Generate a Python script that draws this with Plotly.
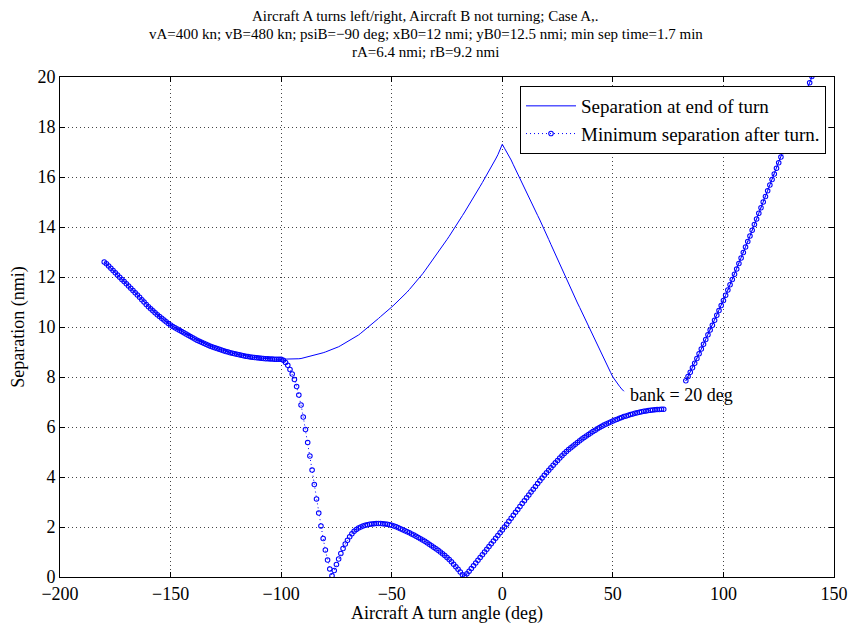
import plotly.graph_objects as go

# ---------------- data ----------------
# turn angle in degrees, 1-degree steps
angle_left = list(range(-180, -99))      # -180 .. -100 (both curves coincide)
angle_mid = list(range(-99, 1))          # -99 .. 0
angle_fall = list(range(1, 56))          # 1 .. 55  (separation at end of turn)
angle_rise = list(range(1, 74))          # 1 .. 73  (minimum separation)
angle_right = list(range(83, 142))       # 83 .. 141 (both curves coincide)

shared_left = [
    12.6, 12.53, 12.44, 12.35, 12.26, 12.17, 12.08, 11.99, 11.9, 11.82,
    11.73, 11.64, 11.55, 11.46, 11.37, 11.28, 11.19, 11.09, 11.0, 10.9,
    10.81, 10.73, 10.65, 10.57, 10.49, 10.42, 10.35, 10.28, 10.21, 10.14,
    10.08, 10.02, 9.97, 9.92, 9.87, 9.82, 9.77, 9.72, 9.67, 9.62,
    9.57, 9.52, 9.47, 9.43, 9.39, 9.35, 9.31, 9.27, 9.23, 9.2,
    9.17, 9.14, 9.11, 9.08, 9.05, 9.02, 9.0, 8.97, 8.95, 8.93,
    8.91, 8.89, 8.87, 8.85, 8.83, 8.82, 8.8, 8.79, 8.78, 8.77,
    8.76, 8.75, 8.74, 8.73, 8.73, 8.72, 8.72, 8.71, 8.71, 8.71,
    8.71,
]

sep_end_mid = [
    8.70, 8.70, 8.70, 8.70, 8.70, 8.71, 8.72, 8.73, 8.74, 8.76,
    8.78, 8.80, 8.82, 8.84, 8.86, 8.88, 8.91, 8.94, 8.97, 9.00,
    9.03, 9.06, 9.09, 9.13, 9.17, 9.21, 9.26, 9.31, 9.36, 9.41,
    9.46, 9.51, 9.56, 9.62, 9.68, 9.75, 9.82, 9.89, 9.96, 10.04,
    10.12, 10.20, 10.27, 10.34, 10.42, 10.49, 10.57, 10.65, 10.72, 10.80,
    10.88, 10.96, 11.04, 11.13, 11.22, 11.31, 11.40, 11.50, 11.60, 11.70,
    11.80, 11.91, 12.02, 12.13, 12.25, 12.37, 12.49, 12.61, 12.73, 12.85,
    12.98, 13.11, 13.24, 13.37, 13.50, 13.63, 13.76, 13.90, 14.04, 14.18,
    14.32, 14.46, 14.60, 14.74, 14.88, 15.03, 15.18, 15.33, 15.48, 15.63,
    15.78, 15.93, 16.08, 16.24, 16.40, 16.56, 16.72, 16.89, 17.10, 17.31,
]

sep_end_fall = [
    17.15, 17.0, 16.86, 16.68, 16.49, 16.3, 16.1, 15.91, 15.73, 15.55,
    15.37, 15.19, 15.0, 14.82, 14.64, 14.46, 14.28, 14.1, 13.9, 13.7,
    13.5, 13.3, 13.1, 12.9, 12.71, 12.52, 12.33, 12.13, 11.93, 11.73,
    11.53, 11.34, 11.15, 10.96, 10.78, 10.59, 10.41, 10.23, 10.05, 9.87,
    9.68, 9.49, 9.3, 9.11, 8.92, 8.73, 8.54, 8.36, 8.18, 8.0,
    7.86, 7.74, 7.63, 7.52, 7.43,
]

min_sep_mid = [
    8.67, 8.58, 8.47, 8.30, 8.12, 7.90, 7.62, 7.28, 6.88, 6.40,
    5.90, 5.38, 4.84, 4.28, 3.70, 3.12, 2.56, 2.04, 1.54, 1.08,
    0.68, 0.32, 0.05, 0.26, 0.50, 0.72, 0.94, 1.14, 1.32, 1.47,
    1.61, 1.73, 1.83, 1.90, 1.96, 2.00, 2.04, 2.07, 2.09, 2.11,
    2.12, 2.13, 2.14, 2.14, 2.14, 2.13, 2.12, 2.11, 2.09, 2.07,
    2.04, 2.01, 1.97, 1.93, 1.89, 1.85, 1.81, 1.77, 1.72, 1.68,
    1.63, 1.58, 1.53, 1.48, 1.43, 1.37, 1.31, 1.25, 1.19, 1.13,
    1.07, 1.00, 0.93, 0.86, 0.78, 0.70, 0.61, 0.51, 0.41, 0.31,
    0.20, 0.09, 0.04, 0.13, 0.23, 0.34, 0.45, 0.56, 0.67, 0.78,
    0.89, 1.00, 1.11, 1.22, 1.33, 1.44, 1.55, 1.66, 1.77, 1.88,
]

min_sep_rise = [
    2.0, 2.11, 2.23, 2.35, 2.47, 2.59, 2.7, 2.82, 2.94, 3.05,
    3.17, 3.28, 3.4, 3.51, 3.62, 3.74, 3.85, 3.96, 4.07, 4.17,
    4.27, 4.37, 4.47, 4.57, 4.66, 4.76, 4.85, 4.94, 5.02, 5.1,
    5.17, 5.24, 5.31, 5.38, 5.45, 5.52, 5.58, 5.64, 5.7, 5.76,
    5.82, 5.87, 5.93, 5.98, 6.03, 6.08, 6.12, 6.16, 6.2, 6.24,
    6.28, 6.31, 6.35, 6.38, 6.42, 6.44, 6.47, 6.5, 6.52, 6.55,
    6.57, 6.59, 6.61, 6.63, 6.64, 6.66, 6.67, 6.68, 6.69, 6.7,
    6.7, 6.71, 6.71,
]

shared_right = [
    7.85, 8.02, 8.19, 8.37, 8.55, 8.74, 8.93, 9.12, 9.31, 9.5,
    9.69, 9.88, 10.07, 10.27, 10.47, 10.66, 10.86, 11.06, 11.27, 11.48,
    11.69, 11.9, 12.11, 12.32, 12.54, 12.76, 12.98, 13.2, 13.42, 13.64,
    13.87, 14.1, 14.32, 14.55, 14.77, 15.0, 15.22, 15.45, 15.68, 15.9,
    16.12, 16.35, 16.57, 16.8, 17.02, 17.25, 17.47, 17.7, 17.93, 18.16,
    18.39, 18.62, 18.85, 19.08, 19.31, 19.54, 19.77, 20.02, 20.23,
]

bank_label = "bank = 20 deg"
bank_label_pos = (57, 7.3)

title_lines = [
    "Aircraft A turns left/right, Aircraft B not turning; Case A,.",
    "vA=400 kn; vB=480 kn; psiB=\u221290 deg; xB0=12 nmi; yB0=12.5 nmi; min sep time=1.7 min",
    "rA=6.4 nmi; rB=9.2 nmi",
]

x_ticks = [-200, -150, -100, -50, 0, 50, 100, 150]
y_ticks = [0, 2, 4, 6, 8, 10, 12, 14, 16, 18, 20]

# ---------------- build series ----------------
x_end = angle_left + angle_mid + angle_fall + [None] + angle_right
y_end = shared_left + sep_end_mid + sep_end_fall + [None] + shared_right

x_min = angle_left + angle_mid + angle_rise + [None] + angle_right
y_min = shared_left + min_sep_mid + min_sep_rise + [None] + shared_right

FONT = "Liberation Serif, Times New Roman, serif"
BLUE = "rgb(0,0,255)"

W, H = 851, 624
ML, MR, MT, MB = 60, 17, 77, 47
PW, PH = W - ML - MR, H - MT - MB

fig = go.Figure()
fig.add_trace(go.Scatter(
    x=x_end, y=y_end, mode="lines", name="Separation at end of turn",
    line=dict(color=BLUE, width=1), connectgaps=False,
))
fig.add_trace(go.Scatter(
    x=x_min, y=y_min, mode="lines+markers", name="Minimum separation after turn.",
    line=dict(color=BLUE, width=1, dash="1px,3px"),
    marker=dict(symbol="circle-open", size=4.5, color=BLUE, line=dict(width=1.1, color=BLUE)),
    connectgaps=False,
))

fig.add_annotation(
    x=bank_label_pos[0], y=bank_label_pos[1], text=bank_label, showarrow=False,
    xanchor="left", yanchor="middle", font=dict(family=FONT, size=18, color="black"),
)

# title: three centred lines
title_centres_px = [16, 34, 52]
for line, py in zip(title_lines, title_centres_px):
    fig.add_annotation(
        xref="paper", yref="paper",
        x=((W / 2) - ML) / PW, y=(H - MB - py) / PH,
        text=line, showarrow=False, xanchor="center", yanchor="middle",
        font=dict(family=FONT, size=15, color="black"),
    )

axis_common = dict(
    showline=True, linecolor="black", linewidth=1, mirror="ticks",
    ticks="inside", ticklen=5, tickcolor="black",
    showgrid=True, gridcolor="#444", gridwidth=1, griddash="1px,3px",
    zeroline=False, tickfont=dict(family=FONT, size=18, color="black"),
    automargin=False,
)

fig.update_xaxes(
    range=[-200, 150], tickvals=x_ticks,
    title=dict(text="Aircraft A turn angle (deg)", font=dict(family=FONT, size=18, color="black"), standoff=6),
    **axis_common,
)
fig.update_yaxes(
    range=[0, 20], tickvals=y_ticks,
    title=dict(text="Separation (nmi)", font=dict(family=FONT, size=18, color="black"), standoff=8),
    **axis_common,
)

fig.update_layout(
    width=W, height=H,
    margin=dict(l=ML, r=MR, t=MT, b=MB, autoexpand=False),
    paper_bgcolor="white", plot_bgcolor="white",
    font=dict(family=FONT, color="black"),
    showlegend=True,
    legend=dict(
        x=(826 - ML) / PW, y=(H - MB - 86) / PH, xanchor="right", yanchor="top",
        bgcolor="white", bordercolor="black", borderwidth=1,
        font=dict(family=FONT, size=19, color="black"),
        itemwidth=50, tracegroupgap=0,
    ),
)

fig.write_html("out.html")
